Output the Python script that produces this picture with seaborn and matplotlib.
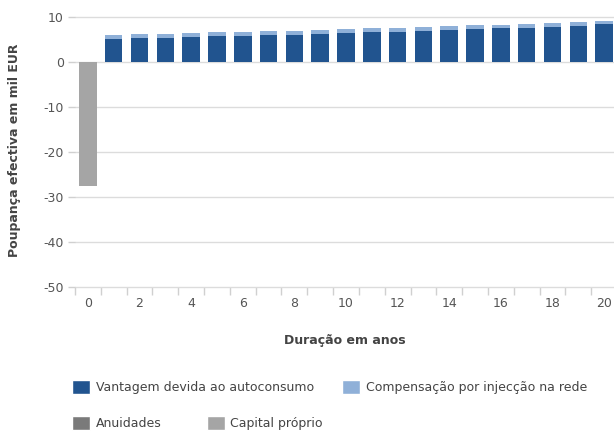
import matplotlib
matplotlib.use("Agg")
import matplotlib.pyplot as plt
import seaborn as sns
import pandas as pd
import numpy as np
from matplotlib.patches import Patch
from matplotlib.ticker import MultipleLocator, FixedLocator

years = list(range(21))
vantagem = [0, 5.1, 5.3, 5.4, 5.55, 5.7, 5.8, 5.95, 6.1, 6.3, 6.45, 6.6, 6.75, 6.9, 7.1, 7.3, 7.5, 7.65, 7.85, 8.1, 8.35]
compensacao = [0, 0.9, 0.9, 0.9, 0.9, 0.9, 0.9, 0.9, 0.9, 0.85, 0.85, 0.85, 0.85, 0.85, 0.85, 0.85, 0.8, 0.8, 0.8, 0.75, 0.7]
anuidades = [0] * 21
capital = [-27.5] + [0] * 20

series_names = ["Vantagem devida ao autoconsumo", "Compensação por injecção na rede", "Anuidades", "Capital próprio"]
colors = ["#21548f", "#8fb0d8", "#7a7a7a", "#a5a5a5"]

df = pd.DataFrame({
    "ano": years,
    "vantagem": vantagem,
    "compensacao": compensacao,
    "capital": capital,
})
df["total"] = df["vantagem"] + df["compensacao"]

sns.set_style("white")
plt.rcParams["font.family"] = ["DejaVu Sans"]
plt.rcParams["axes.unicode_minus"] = False

fig = plt.figure(figsize=(6.14, 4.32), dpi=100)
W, H = 614, 432
ax = fig.add_axes([75 / W, 1 - 287 / H, (617 - 75) / W, (287 - 17) / H])

bw = 0.68
sns.barplot(data=df, x="ano", y="total", color=colors[1], width=bw, ax=ax,
            saturation=1, errorbar=None, edgecolor="none", linewidth=0)
sns.barplot(data=df, x="ano", y="vantagem", color=colors[0], width=bw, ax=ax,
            saturation=1, errorbar=None, edgecolor="none", linewidth=0)
sns.barplot(data=df, x="ano", y="capital", color=colors[3], width=bw, ax=ax,
            saturation=1, errorbar=None, edgecolor="none", linewidth=0)

ax.set_xlim(-0.5, 20.5)
ax.set_ylim(-50, 10)
ax.yaxis.set_major_locator(MultipleLocator(10))
ax.set_axisbelow(True)
ax.grid(axis="y", color="#dcdcdc", linewidth=1)
for gl in ax.get_ygridlines():
    gl.set_clip_on(False)
for s in ax.spines.values():
    s.set_visible(False)

ax.xaxis.set_major_locator(FixedLocator(list(range(0, 21, 2))))
ax.set_xticklabels([str(y) for y in range(0, 21, 2)])
ax.xaxis.set_minor_locator(FixedLocator([i + 0.5 for i in range(-1, 21)]))
ax.tick_params(axis="x", which="both", bottom=True)
ax.tick_params(axis="y", which="both", left=True)
ax.tick_params(axis="x", which="major", length=0, pad=7, labelsize=9, labelcolor="#555555")
ax.tick_params(axis="x", which="minor", length=6, color="#d0d0d0", width=1)
ax.tick_params(axis="y", which="major", length=5, color="#d0d0d0", width=1, pad=3,
               labelsize=9, labelcolor="#555555")

ax.set_xlabel("Duração em anos", fontsize=9, fontweight="bold", color="#444444")
ax.set_ylabel("Poupança efectiva em mil EUR", fontsize=9, fontweight="bold", color="#444444")
ax.xaxis.set_label_coords((345 - 75) / (617 - 75), -(334 - 287) / (287 - 17), transform=ax.transAxes)
ax.yaxis.set_label_coords((21 - 75) / (617 - 75), (287 - 150) / (287 - 17), transform=ax.transAxes)

h1 = [Patch(facecolor=colors[0]), Patch(facecolor=colors[1])]
h2 = [Patch(facecolor=colors[2]), Patch(facecolor=colors[3])]
kw = dict(frameon=False, fontsize=9, handlelength=1.45, handleheight=1.45,
          handletextpad=0.45, borderaxespad=0, borderpad=0, ncol=2, loc="center left",
          labelcolor="#444444")
fig.legend(h1, series_names[:2], bbox_to_anchor=(72 / W, 1 - 387 / H), columnspacing=2.25, **kw)
fig.legend(h2, series_names[2:], bbox_to_anchor=(72 / W, 1 - 423 / H), columnspacing=3.6, **kw)

fig.savefig("out.png", dpi=100)
